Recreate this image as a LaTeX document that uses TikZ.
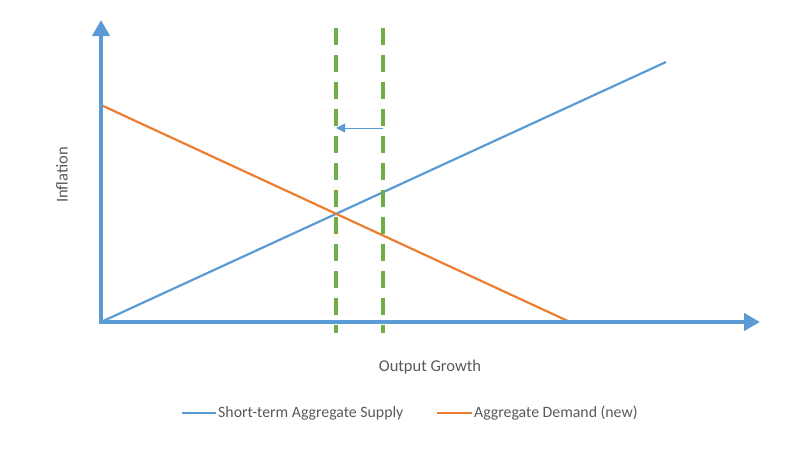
\documentclass[tikz,border=0pt]{standalone}
\usepackage{fontspec}
\setmainfont{Carlito}
\usepackage{tikz}
\usetikzlibrary{arrows.meta}

\definecolor{axisblue}{HTML}{5B9BD5}
\definecolor{adorange}{HTML}{ED7D31}
\definecolor{potgreen}{HTML}{70AD47}
\definecolor{labelgray}{HTML}{595959}

\begin{document}
\begin{tikzpicture}[x=1pt, y=-1pt, >=Triangle,
    axis/.style={draw=axisblue, line width=4.5pt, -{Triangle[length=16pt,width=17pt]}},
    curve/.style={line width=2.2pt},
    potline/.style={draw=potgreen, line width=3.5pt, dash pattern=on 17pt off 10pt},
    lbl/.style={text=labelgray, font=\fontsize{16.5}{18}\selectfont, inner sep=0pt},
    leglbl/.style={text=labelgray, font=\fontsize{15.8}{18}\selectfont, inner sep=0pt, anchor=west}]
    \useasboundingbox (0,0) rectangle (810,455);

    \coordinate (O) at (101,322);
    \coordinate (ytop) at (101,20);
    \coordinate (xend) at (760,322);
    \coordinate (sEnd) at (666,62);
    \coordinate (dStart) at (101,105);
    \coordinate (dEnd) at (570,322);
    \coordinate (g1top) at (336,28);
    \coordinate (g1bot) at (336,333);
    \coordinate (g2top) at (383,28);
    \coordinate (g2bot) at (383,333);
    \coordinate (shiftA) at (383,128);
    \coordinate (shiftB) at (336,128);

    \draw[curve, axisblue] (O) -- (sEnd);
    \draw[curve, adorange] (dStart) -- (dEnd);
    \draw[axis] (O) -- (ytop);
    \draw[axis] ([xshift=-2.25pt]O) -- (xend);
    \draw[potline] (g1top) -- (g1bot);
    \draw[potline] (g2top) -- (g2bot);
    \draw[axisblue, line width=0.9pt, -{Triangle[length=9pt,width=9pt]}] (shiftA) -- (shiftB);

    \node[lbl, rotate=90] (ylabel) at (62,175) {Inflation};
    \node[lbl] (xlabel) at (430,367) {Output Growth};

    % legend
    \coordinate (l1a) at (182,413);
    \coordinate (l1b) at (216,413);
    \coordinate (l2a) at (437,413);
    \coordinate (l2b) at (472,413);
    \draw[curve, axisblue] (l1a) -- (l1b);
    \draw[curve, adorange] (l2a) -- (l2b);
    \node[leglbl] (leg1) at (218,413) {Short-term Aggregate Supply};
    \node[leglbl] (leg2) at (474,413) {Aggregate Demand (new)};
\end{tikzpicture}
\end{document}
